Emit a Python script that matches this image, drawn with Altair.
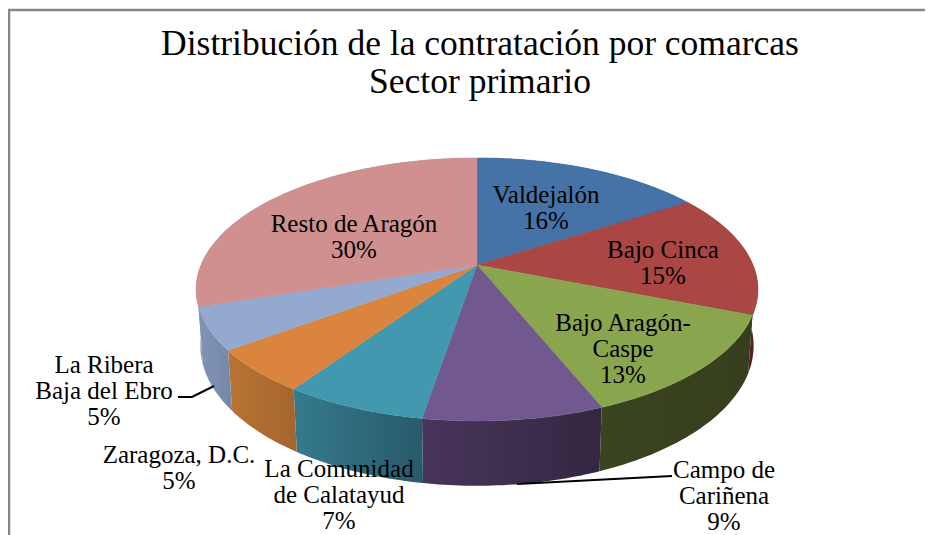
import math
import altair as alt

# ---- data ----
NAMES = ["Valdejalón", "Bajo Cinca", "Bajo Aragón-\nCaspe", "Campo de\nCariñena",
         "La Comunidad\nde Calatayud", "Zaragoza, D.C.", "La Ribera\nBaja del Ebro", "Resto de Aragón"]
VALUES = [15.9, 15.1, 12.9, 8.7, 6.9, 5.3, 5.2, 30.0]
TITLE_LINES = ["Distribución de la contratación por comarcas", "Sector primario"]

# ---- styles and layout (page pixels) ----
TOP_COLORS = ["#4572a7", "#aa4643", "#89a54e", "#71588f", "#4198af", "#db843d", "#93a9cf", "#cf908f"]
WALL_COLORS = [("#2b4464", "#2b4464"), ("#6a2b2a", "#4f1f1e"), ("#3b4420", "#363e1e"),
               ("#47355a", "#332742"), ("#357a8e", "#285a6a"), ("#b97434", "#a4652e"),
               ("#8093b4", "#7488a9"), ("#8093b4", "#8093b4")]
LABEL_POS = [(546, 195), (663, 250), (623, 323), (724, 470), (339, 469), (179, 455), (104, 365), (354, 224)]
CX, CY, A, B, K, DEPTH, SHRINK = 477, 265, 276, 127, 0.186, 56, 0.015
FONT = "Liberation Serif"


def rim(share, lower=False):
    t = 2 * math.pi * share / 100
    u, v = math.sin(t), math.cos(t)
    d = 1 + K * v + (SHRINK if lower else 0)
    h = DEPTH if lower else 0
    return [CX + A * u / d, CY - (B * v - h) / d]


def arc(start, end, lower=False):
    n = max(2, int((end - start) * 4))
    return [rim(start + (end - start) * i / n, lower) for i in range(n + 1)]


def feature(ring):
    return {"type": "Feature", "properties": {},
            "geometry": {"type": "Polygon", "coordinates": [ring + [ring[0]]]}}


def line_feature(points):
    return {"type": "Feature", "properties": {},
            "geometry": {"type": "LineString", "coordinates": points}}


walls, tops = [], []
start = 0.0
for value, top, (left, right) in zip(VALUES, TOP_COLORS, WALL_COLORS):
    end = start + value
    wall_ring = arc(start, end) + arc(start, end, True)[::-1]
    gradient = alt.Gradient(gradient="linear", x1=0, x2=1, y1=0, y2=0,
                            stops=[alt.GradientStop(color=left, offset=0),
                                   alt.GradientStop(color=right, offset=1)])
    walls.append(alt.Chart(alt.Data(values=[feature(wall_ring)]))
                 .mark_geoshape(fill=gradient, strokeWidth=0))
    tops.append(alt.Chart(alt.Data(values=[feature([[CX, CY]] + arc(start, end))]))
                .mark_geoshape(fill=top, stroke=top, strokeWidth=0.5))
    start = end

frame = alt.Chart(alt.Data(values=[line_feature([[960, 10], [9, 10], [9, 560]])])).mark_geoshape(
    filled=False, stroke="#868686", strokeWidth=2.5)
leaders = alt.Chart(alt.Data(values=[
    line_feature([[178, 397], [192, 397], [214, 386]]),
    line_feature([[517, 484], [672, 476]]),
])).mark_geoshape(filled=False, stroke="#000000", strokeWidth=2)

label_rows = [{"text": f"{name}\n{round(value)}%", "lon": x, "lat": y}
              for name, value, (x, y) in zip(NAMES, VALUES, LABEL_POS)]
labels = alt.Chart(alt.Data(values=label_rows)).mark_text(
    font=FONT, fontSize=25, color="#000000", align="center", baseline="middle",
    lineBreak="\n", lineHeight=26
).encode(longitude="lon:Q", latitude="lat:Q", text="text:N")

title_rows = [{"text": TITLE_LINES[0], "lon": 480, "lat": 44}, {"text": TITLE_LINES[1], "lon": 480, "lat": 82}]
title = alt.Chart(alt.Data(values=title_rows)).mark_text(
    font=FONT, fontSize=35.5, color="#000000", align="center", baseline="middle"
).encode(longitude="lon:Q", latitude="lat:Q", text="text:N")

chart = alt.layer(frame, *walls, *tops, leaders, labels, title).project(
    type="identity", scale=1, translate=[-8, -8]
).properties(width=917, height=527, padding=0, background="#ffffff",
             autosize=alt.AutoSizeParams(type="none")
).configure_view(stroke=None)

chart.save("out.html", embed_options={"renderer": "svg", "actions": False})
